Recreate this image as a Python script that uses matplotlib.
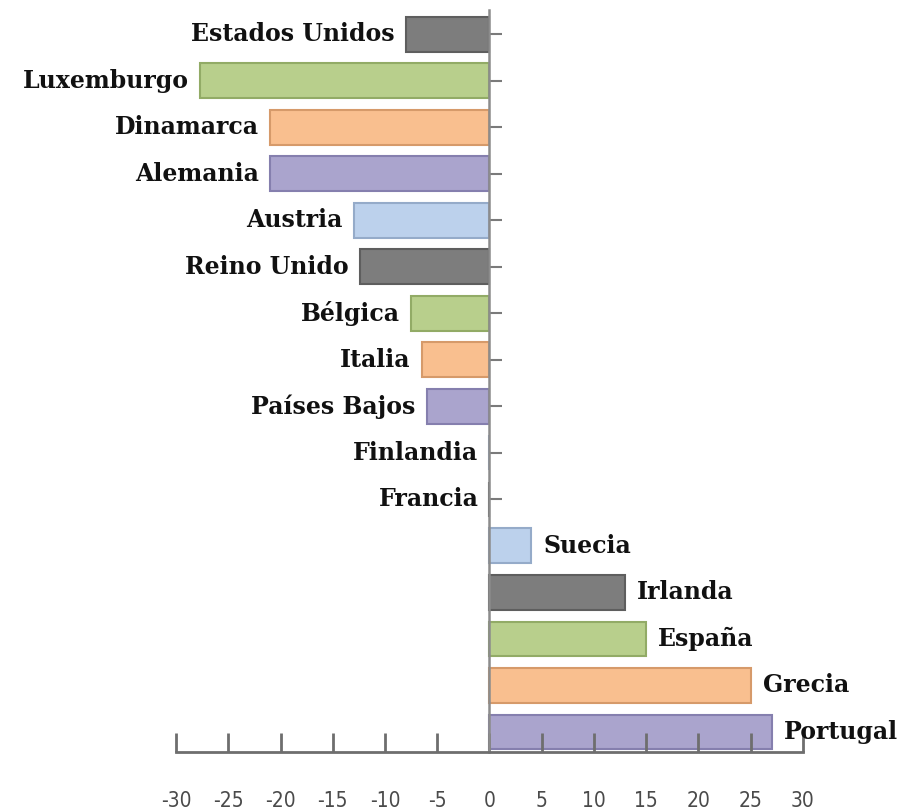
import matplotlib
matplotlib.use("Agg")
import matplotlib.pyplot as plt

countries = ["Estados Unidos", "Luxemburgo", "Dinamarca", "Alemania", "Austria",
             "Reino Unido", "Bélgica", "Italia", "Países Bajos", "Finlandia",
             "Francia", "Suecia", "Irlanda", "España", "Grecia", "Portugal"]
values = [-8, -27.7, -21, -21, -13, -12.4, -7.5, -6.5, -6, 0, 0, 4, 13, 15, 25, 27]
fill_colors = ["#7d7d7d", "#b8cf8c", "#f9bf8f", "#aaa4cd", "#bcd1ec",
               "#7d7d7d", "#b8cf8c", "#f9bf8f", "#aaa4cd", "#bcd1ec",
               "#7d7d7d", "#bcd1ec", "#7d7d7d", "#b8cf8c", "#f9bf8f", "#aaa4cd"]
edge_colors = ["#5e5e5e", "#92ab66", "#d69a6a", "#857fae", "#95abc9",
               "#5e5e5e", "#92ab66", "#d69a6a", "#857fae", "#95abc9",
               "#5e5e5e", "#95abc9", "#5e5e5e", "#92ab66", "#d69a6a", "#857fae"]
xticks = [-30, -25, -20, -15, -10, -5, 0, 5, 10, 15, 20, 25, 30]

fig = plt.figure(figsize=(9.03, 8.11), dpi=100)
ax = fig.add_axes([176 / 903, 1 - 752 / 811, (803 - 176) / 903, (752 - 10) / 811])

ypos = list(range(len(countries)))
ax.barh(ypos, values, height=0.75, color=fill_colors, edgecolor=edge_colors, linewidth=1.5)

ax.set_xlim(-30, 30)
ax.set_ylim(15.43, -0.52)

for y, name, v in zip(ypos, countries, values):
    if v > 0:
        ax.annotate(name, (v, y), xytext=(8.5, 0), textcoords="offset points",
                    ha="left", va="center", fontsize=17, fontweight="bold",
                    family="DejaVu Serif", color="#111111")
    else:
        ax.annotate(name, (v, y), xytext=(-8, 0), textcoords="offset points",
                    ha="right", va="center", fontsize=17, fontweight="bold",
                    family="DejaVu Serif", color="#111111")

for s in ["top", "right"]:
    ax.spines[s].set_visible(False)
ax.spines["left"].set_position(("data", 0))
ax.spines["left"].set_color("#8c8c8c")
ax.spines["left"].set_linewidth(1.8)
ax.spines["bottom"].set_color("#6e6e6e")
ax.spines["bottom"].set_linewidth(2)

ax.set_yticks([y for y, v in zip(ypos, values) if v <= 0])
ax.set_yticklabels([])
ax.tick_params(axis="y", direction="in", length=9, width=1.5, color="#7a7a7a")

ax.set_xticks(xticks)
ax.set_xticklabels([str(t) for t in xticks], family="DejaVu Sans", stretch="condensed",
                   fontsize=15, color="#4a4a4a")
ax.tick_params(axis="x", direction="in", length=14, width=2, color="#6e6e6e", pad=28)

fig.savefig("out.png", dpi=100)
